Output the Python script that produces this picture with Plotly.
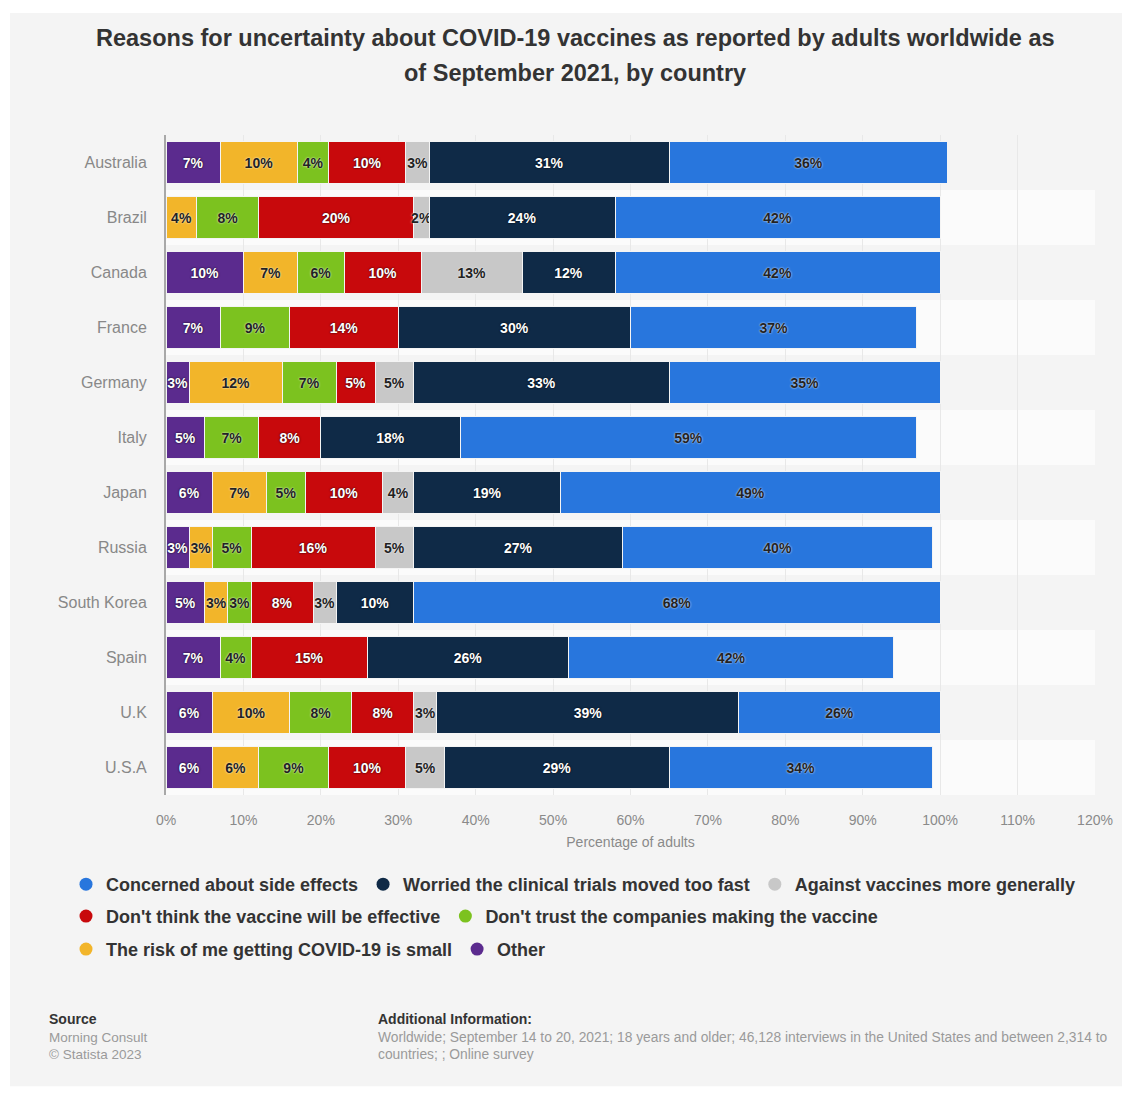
import plotly.graph_objects as go

# ---------------- data ----------------
countries = ["Australia", "Brazil", "Canada", "France", "Germany", "Italy", "Japan",
             "Russia", "South Korea", "Spain", "U.K", "U.S.A"]
other = [7, 0, 10, 7, 3, 5, 6, 3, 5, 7, 6, 6]
risk_small = [10, 4, 7, None, 12, None, 7, 3, 3, None, 10, 6]
dont_trust = [4, 8, 6, 9, 7, 7, 5, 5, 3, 4, 8, 9]
not_effective = [10, 20, 10, 14, 5, 8, 10, 16, 8, 15, 8, 10]
against = [3, 2, 13, None, 5, None, 4, 5, 3, None, 3, 5]
trials_fast = [31, 24, 12, 30, 33, 18, 19, 27, 10, 26, 39, 29]
side_effects = [36, 42, 42, 37, 35, 59, 49, 40, 68, 42, 26, 34]

series_names = ["Other", "The risk of me getting COVID-19 is small",
                "Don't trust the companies making the vaccine",
                "Don't think the vaccine will be effective",
                "Against vaccines more generally",
                "Worried the clinical trials moved too fast",
                "Concerned about side effects"]
series_values = [other, risk_small, dont_trust, not_effective, against, trials_fast, side_effects]
x_ticks = list(range(0, 121, 10))

# ---------------- styles ----------------
colors = ["#5b2b8e", "#f2b52a", "#7cc21f", "#c8090c", "#c8c8c8", "#0f2a47", "#2876dd"]
light_text = [True, False, False, True, False, True, False]
FONT = "Liberation Sans, Arial"

W, H = 1126, 1099
PL, PR, PT, PB = 166, 1095, 135, 795.5


def px_x(px):
    return (px - PL) / (PR - PL)


def px_y(py):
    return (PB - py) / (PB - PT)


fig = go.Figure()

for name, vals, col, lt in zip(series_names, series_values, colors, light_text):
    labels = [f"{v}%" if v is not None else "" for v in vals]
    fig.add_trace(go.Bar(
        y=countries, x=vals, name=name, orientation="h",
        marker=dict(color=col, line=dict(color="#f4f4f4", width=1)),
        text=labels, texttemplate="%{text}", textposition="inside",
        insidetextanchor="middle", textangle=0, constraintext="none",
        textfont=dict(family=FONT, size=14, weight="bold",
                      color="#ffffff" if lt else "#222222",
                      shadow="0px 0px 2px #000000" if lt else "0px 0px 2px #ffffff"),
        showlegend=False, hoverinfo="x+name",
    ))

# legend entries (circle symbols), three rows as in the reference
legend_rows = [
    [("Concerned about side effects", colors[6]),
     ("Worried the clinical trials moved too fast", colors[5]),
     ("Against vaccines more generally", colors[4])],
    [("Don't think the vaccine will be effective", colors[3]),
     ("Don't trust the companies making the vaccine", colors[2])],
    [("The risk of me getting COVID-19 is small", colors[1]),
     ("Other", colors[0])],
]
legend_ids = ["legend", "legend2", "legend3"]
for lid, row in zip(legend_ids, legend_rows):
    for name, col in row:
        fig.add_trace(go.Scatter(
            x=[None], y=[None], mode="markers", name=name,
            marker=dict(symbol="circle", size=13, color=col),
            legend=lid, showlegend=True, hoverinfo="skip",
        ))

legend_font = dict(family=FONT, size=18, color="#333333", weight="bold")
row_y = [885, 917, 950]
legend_cfg = {}
for lid, ry in zip(legend_ids, row_y):
    legend_cfg[lid] = dict(orientation="h", traceorder="normal", x=px_x(66), xanchor="left",
                           y=px_y(ry), yanchor="middle", font=legend_font,
                           bgcolor="rgba(0,0,0,0)", itemclick=False, itemdoubleclick=False)

shapes = [
    dict(type="rect", xref="paper", yref="paper", x0=px_x(10), x1=px_x(1122),
         y0=px_y(13), y1=px_y(1087), fillcolor="#f4f4f4", line=dict(width=0), layer="below"),
]
for i in range(1, len(countries), 2):
    shapes.append(dict(type="rect", xref="paper", yref="y", x0=0, x1=1,
                       y0=i - 0.5, y1=i + 0.5, fillcolor="#fbfbfb",
                       line=dict(width=0), layer="below"))

annotations = [
    dict(text="<b>Reasons for uncertainty about COVID-19 vaccines as reported by adults worldwide as</b>",
         x=px_x(575), y=px_y(38), xref="paper", yref="paper", showarrow=False,
         xanchor="center", yanchor="middle",
         font=dict(family=FONT, size=23.5, color="#333333")),
    dict(text="<b>of September 2021, by country</b>",
         x=px_x(575), y=px_y(73), xref="paper", yref="paper", showarrow=False,
         xanchor="center", yanchor="middle",
         font=dict(family=FONT, size=23.5, color="#333333")),
    dict(text="<b>Source</b>", x=px_x(47), y=px_y(1020), xref="paper", yref="paper",
         showarrow=False, xanchor="left", yanchor="middle",
         font=dict(family=FONT, size=14, color="#333333")),
    dict(text="Morning Consult", x=px_x(47), y=px_y(1038), xref="paper", yref="paper",
         showarrow=False, xanchor="left", yanchor="middle",
         font=dict(family=FONT, size=13.5, color="#9a9a9a")),
    dict(text="© Statista 2023", x=px_x(47), y=px_y(1055), xref="paper", yref="paper",
         showarrow=False, xanchor="left", yanchor="middle",
         font=dict(family=FONT, size=13.5, color="#9a9a9a")),
    dict(text="<b>Additional Information:</b>", x=px_x(376), y=px_y(1020), xref="paper", yref="paper",
         showarrow=False, xanchor="left", yanchor="middle",
         font=dict(family=FONT, size=14, color="#333333")),
    dict(text="Worldwide; September 14 to 20, 2021; 18 years and older; 46,128 interviews in the United States and between 2,314 to",
         x=px_x(376), y=px_y(1038), xref="paper", yref="paper",
         showarrow=False, xanchor="left", yanchor="middle",
         font=dict(family=FONT, size=13.8, color="#9a9a9a")),
    dict(text="countries; ; Online survey",
         x=px_x(376), y=px_y(1055), xref="paper", yref="paper",
         showarrow=False, xanchor="left", yanchor="middle",
         font=dict(family=FONT, size=13.8, color="#9a9a9a")),
]

fig.update_layout(
    width=W, height=H,
    margin=dict(l=PL, r=W - PR, t=PT, b=H - PB, pad=0),
    paper_bgcolor="#ffffff", plot_bgcolor="rgba(0,0,0,0)",
    barmode="stack", bargap=0.25,
    font=dict(family=FONT, color="#666666"),
    shapes=shapes, annotations=annotations,
    uniformtext=dict(mode=False),
    **legend_cfg,
)
fig.update_xaxes(range=[0, 120], tickvals=x_ticks, ticktext=[f"{v}%" for v in x_ticks],
                 showgrid=True, gridcolor="#e8e8e8", gridwidth=1, zeroline=False,
                 showline=False, ticks="", ticklabelstandoff=15,
                 tickfont=dict(size=14, color="#8a8a8a"),
                 title=dict(text="Percentage of adults", standoff=10,
                            font=dict(size=14, color="#8a8a8a")))
fig.update_yaxes(type="category", categoryorder="array", categoryarray=countries,
                 autorange="reversed", showgrid=False, zeroline=False,
                 showline=True, linecolor="#a8a8a8", linewidth=2, ticks="",
                 ticklabelstandoff=14,
                 tickfont=dict(size=16, color="#888888"))

fig.write_html("out.html")
